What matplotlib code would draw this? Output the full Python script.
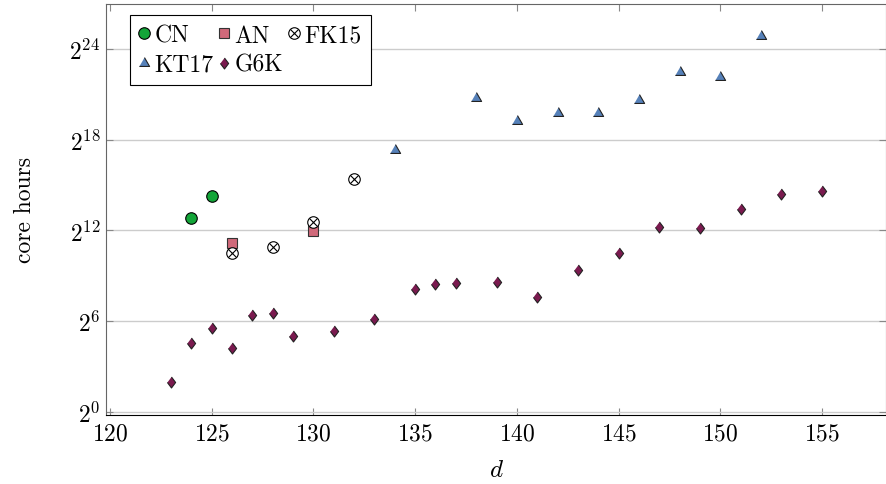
import matplotlib
matplotlib.use('Agg')
import matplotlib.pyplot as plt
import numpy as np
from matplotlib.ticker import FixedLocator, FuncFormatter

plt.rcParams['font.family'] = 'serif'
plt.rcParams['font.serif'] = ['cmr10']
plt.rcParams['mathtext.fontset'] = 'cm'
plt.rcParams['axes.formatter.use_mathtext'] = True

# data (y values as log2 of core hours)
cn_d = [124, 125]
cn_log2 = [12.8, 14.25]

an_d = [126, 130]
an_log2 = [11.15, 11.95]

fk_d = [126, 128, 130, 132]
fk_log2 = [10.5, 10.9, 12.55, 15.4]

kt_d = [134, 138, 140, 142, 144, 146, 148, 150, 152]
kt_log2 = [17.35, 20.75, 19.25, 19.75, 19.75, 20.62, 22.45, 22.13, 24.88]

g6k_d = [123, 124, 125, 126, 127, 128, 129, 131, 133, 135, 136, 137, 139,
         141, 143, 145, 147, 149, 151, 153, 155]
g6k_log2 = [2.0, 4.55, 5.55, 4.25, 6.43, 6.57, 5.05, 5.36, 6.17, 8.13, 8.46,
            8.51, 8.57, 7.58, 9.39, 10.53, 12.2, 12.18, 13.42, 14.43, 14.63]

xticks = [120, 125, 130, 135, 140, 145, 150, 155]
yticks_log2 = [0, 6, 12, 18, 24]

fig = plt.figure(figsize=(8.87, 4.85), dpi=100)
ax = fig.add_axes([0.1195, 0.1423, 0.8794, 0.8474])
ax.set_yscale('log', base=2)

tri = [(-1, -0.577), (1, -0.577), (0, 1.155)]
dia = [(0, 1), (0.75, 0), (0, -1), (-0.75, 0)]

h_cn, = ax.plot(cn_d, np.exp2(cn_log2), 'o', ms=8.3, mfc='#13a538', mec='black', mew=0.8, ls='none')
h_an, = ax.plot(an_d, np.exp2(an_log2), 's', ms=7.8, mfc='#d0697a', mec='#333333', mew=0.8, ls='none')
h_fk1, = ax.plot(fk_d, np.exp2(fk_log2), 'o', ms=8.3, mfc='white', mec='black', mew=0.8, ls='none')
h_fk2, = ax.plot(fk_d, np.exp2(fk_log2), 'x', ms=5.8, mec='black', mew=0.8, ls='none')
h_kt, = ax.plot(kt_d, np.exp2(kt_log2), marker=tri, ms=8.5, mfc='#5681b9', mec='#222222', mew=0.8, ls='none')
h_g6, = ax.plot(g6k_d, np.exp2(g6k_log2), marker=dia, ms=7.9, mfc='#7a1a4f', mec='#222222', mew=0.8, ls='none')

ax.set_xlim(119.8, 158.15)
ax.set_ylim(2 ** -0.2, 2 ** 26.97)
ax.xaxis.set_major_locator(FixedLocator(xticks))
ax.yaxis.set_major_locator(FixedLocator([2.0 ** e for e in yticks_log2]))
ax.yaxis.set_minor_locator(FixedLocator([]))
ax.yaxis.set_major_formatter(FuncFormatter(lambda v, p: r'$2^{%d}$' % round(np.log2(v))))

ax.tick_params(axis='both', direction='in', length=5, width=0.8, color='#888888',
               labelsize=17, top=True, right=True)
ax.tick_params(axis='x', pad=5)
ax.tick_params(axis='y', pad=4)
ax.grid(axis='y', color='#cccccc', lw=1)
ax.set_axisbelow(True)

for s in ['left', 'top', 'right']:
    ax.spines[s].set_color('#666666')
ax.spines['bottom'].set_color('black')

ax.set_xlabel(r'$d$', fontsize=18, labelpad=11)
ax.set_ylabel('core hours', fontsize=17, labelpad=24)

leg = ax.legend([h_cn, h_kt, h_an, h_g6, (h_fk1, h_fk2)],
                ['CN', 'KT17', 'AN', 'G6K', 'FK15'],
                ncol=3, loc='upper left', bbox_to_anchor=(0.031, 0.973),
                borderaxespad=0, fontsize=17, handlelength=0.4, handletextpad=0.22,
                columnspacing=0.27, labelspacing=0.3, borderpad=0.4,
                fancybox=False, framealpha=1, edgecolor='black')
leg.get_frame().set_linewidth(0.8)

fig.savefig('out.png', dpi=100)
